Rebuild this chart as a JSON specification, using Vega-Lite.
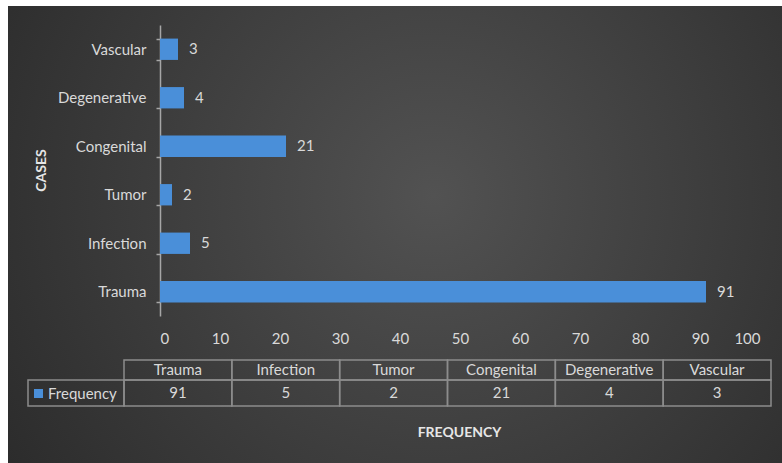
{
  "$schema": "https://vega.github.io/schema/vega-lite/v6.json",
  "autosize": {"type": "none"},
  "width": 774,
  "height": 457,
  "padding": {"left": 8, "top": 6, "right": 0, "bottom": 0},
  "background": "white",
  "view": {
    "stroke": null,
    "fill": {
      "gradient": "radial",
      "x1": 0.55, "y1": 0.45, "r1": 0,
      "x2": 0.55, "y2": 0.45, "r2": 0.75,
      "stops": [
        {"offset": 0, "color": "#525252"},
        {"offset": 1, "color": "#262626"}
      ]
    }
  },
  "config": {"font": "Lato"},
  "data": {
    "values": [
      {"cat": "Trauma", "freq": 91},
      {"cat": "Infection", "freq": 5},
      {"cat": "Tumor", "freq": 2},
      {"cat": "Congenital", "freq": 21},
      {"cat": "Degenerative", "freq": 4},
      {"cat": "Vascular", "freq": 3}
    ]
  },
  "resolve": {"scale": {"x": "independent", "y": "independent"}},
  "layer": [
    {
      "encoding": {
        "x": {
          "field": "freq", "type": "quantitative",
          "scale": {"domain": [0, 100], "range": [152, 752], "nice": false},
          "axis": {
            "orient": "bottom", "offset": -125, "values": [0,10,20,30,40,50,60,70,80,90,100],
            "domain": false, "ticks": false, "tickSize": 0, "grid": false,
            "labelPadding": 0, "labelBaseline": "middle", "labelFontSize": 15, "labelColor": "#d9d9d9",
            "title": "FREQUENCY", "titleX": 451, "titleY": 94, "titleAlign": "center", "titleBaseline": "middle",
            "titleFontSize": 14, "titleFontWeight": "bold", "titleColor": "#e6e6e6"
          }
        },
        "y": {
          "field": "cat", "type": "nominal",
          "sort": ["Vascular", "Degenerative", "Congenital", "Tumor", "Infection", "Trauma"],
          "scale": {"range": [19, 310], "paddingInner": 0.56, "paddingOuter": 0.28},
          "axis": {
            "orient": "left", "offset": -152,
            "domainColor": "#a6a6a6", "domainWidth": 1.5,
            "tickColor": "#a6a6a6", "tickWidth": 1.5, "tickSize": 4, "tickBand": "extent",
            "labelPadding": 10, "labelFontSize": 15, "labelColor": "#d9d9d9",
            "title": "CASES", "titleX": -119, "titleY": 164, "titleAngle": 270,
            "titleAlign": "center", "titleBaseline": "middle",
            "titleFontSize": 14, "titleFontWeight": "bold", "titleColor": "#e6e6e6"
          }
        }
      },
      "layer": [
        {
          "mark": {"type": "bar"},
          "encoding": {
            "color": {
              "datum": "Frequency", "type": "nominal",
              "scale": {"range": ["#4a8fd9"]},
              "legend": {
                "orient": "none", "legendX": 23, "legendY": 380, "title": null,
                "symbolType": "square", "symbolSize": 81, "symbolStrokeWidth": 0,
                "labelFontSize": 15, "labelColor": "#d9d9d9", "labelOffset": 2, "padding": 0
              }
            }
          }
        },
        {
          "mark": {"type": "text", "align": "left", "baseline": "middle", "dx": 11, "fontSize": 15, "color": "#d9d9d9"},
          "encoding": {"text": {"field": "freq", "type": "quantitative"}}
        }
      ]
    },
    {
      "encoding": {
        "x": {
          "field": "cat", "type": "nominal",
          "sort": ["Trauma", "Infection", "Tumor", "Congenital", "Degenerative", "Vascular"],
          "scale": {"range": [116, 763], "paddingInner": 0, "paddingOuter": 0},
          "axis": null
        },
        "y": {"datum": "header", "type": "nominal", "scale": {"range": [354, 374], "paddingInner": 0, "paddingOuter": 0}, "axis": null}
      },
      "layer": [
        {"mark": {"type": "rect", "fill": "transparent", "stroke": "#8c8c8c", "strokeWidth": 1.5}},
        {
          "mark": {"type": "text", "align": "center", "baseline": "middle", "fontSize": 15, "color": "#d9d9d9"},
          "encoding": {"text": {"field": "cat", "type": "nominal"}}
        }
      ]
    },
    {
      "encoding": {
        "x": {
          "field": "cat", "type": "nominal",
          "sort": ["Trauma", "Infection", "Tumor", "Congenital", "Degenerative", "Vascular"],
          "scale": {"range": [116, 763], "paddingInner": 0, "paddingOuter": 0},
          "axis": null
        },
        "y": {"datum": "value", "type": "nominal", "scale": {"range": [374, 400], "paddingInner": 0, "paddingOuter": 0}, "axis": null}
      },
      "layer": [
        {"mark": {"type": "rect", "fill": "transparent", "stroke": "#8c8c8c", "strokeWidth": 1.5}},
        {
          "mark": {"type": "text", "align": "center", "baseline": "middle", "fontSize": 15, "color": "#d9d9d9"},
          "encoding": {"text": {"field": "freq", "type": "quantitative"}}
        }
      ]
    },
    {
      "data": {"values": [{"key": "Frequency"}]},
      "mark": {"type": "rect", "fill": "transparent", "stroke": "#8c8c8c", "strokeWidth": 1.5},
      "encoding": {
        "x": {"field": "key", "type": "nominal", "scale": {"range": [20, 116], "paddingInner": 0, "paddingOuter": 0}, "axis": null},
        "y": {"datum": "value", "type": "nominal", "scale": {"range": [374, 400], "paddingInner": 0, "paddingOuter": 0}, "axis": null}
      }
    }
  ]
}
